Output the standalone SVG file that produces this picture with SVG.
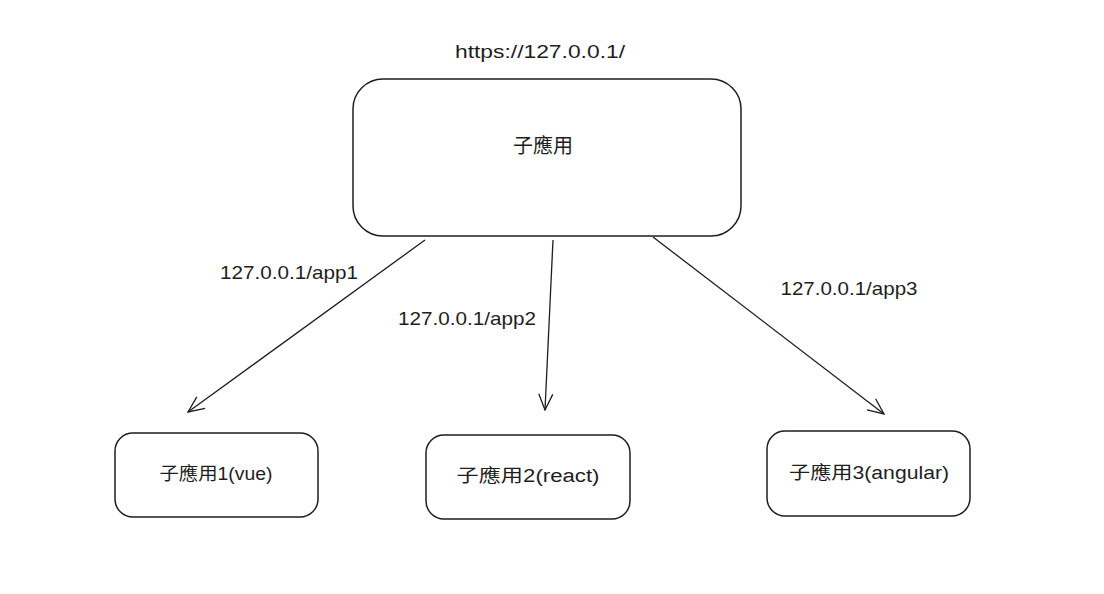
<svg xmlns="http://www.w3.org/2000/svg" width="1104" height="594" viewBox="0 0 1104 594">
<style>
.box{fill:#fff;stroke:#1e1e1e;stroke-width:1.5}
.t{font-family:"Liberation Sans","Noto Sans CJK TC",sans-serif;fill:#1e1e1e;text-anchor:middle}
.lbl{font-size:19px}
.node{font-size:18px}
.conn{stroke:#1e1e1e;stroke-width:1.3;fill:none}
</style>
<defs>
<marker id="arr" viewBox="0 0 20 20" refX="18" refY="10" markerWidth="20" markerHeight="20" markerUnits="userSpaceOnUse" orient="auto">
<path d="M2,3 L18,10 L2,17" fill="none" stroke="#1e1e1e" stroke-width="1.3"/>
</marker>
</defs>
<rect width="1104" height="594" fill="#fff"/>
<text class="t lbl" x="540" y="58" textLength="170" lengthAdjust="spacingAndGlyphs">https://127.0.0.1/</text>
<g id="main">
<rect class="box" x="353" y="79" width="388" height="157" rx="30"/>
<text class="t" x="543" y="153" font-size="20">子應用</text>
</g>
<g id="app1">
<rect class="box" x="115" y="433" width="203" height="84" rx="18"/>
<text class="t node" x="216" y="480" textLength="113" lengthAdjust="spacingAndGlyphs">子應用1(vue)</text>
</g>
<g id="app2">
<rect class="box" x="426" y="435" width="204" height="84" rx="18"/>
<text class="t node" x="528" y="482" textLength="143" lengthAdjust="spacingAndGlyphs">子應用2(react)</text>
</g>
<g id="app3">
<rect class="box" x="767" y="431" width="203" height="85" rx="18"/>
<text class="t node" x="869" y="479" textLength="160" lengthAdjust="spacingAndGlyphs">子應用3(angular)</text>
</g>
<g id="connectors">
<path class="conn" d="M425,240 L188,412" marker-end="url(#arr)"/>
<path class="conn" d="M553,240 L545,410" marker-end="url(#arr)"/>
<path class="conn" d="M653,237 L884,414" marker-end="url(#arr)"/>
<text class="t lbl" x="289" y="279" textLength="138" lengthAdjust="spacingAndGlyphs">127.0.0.1/app1</text>
<text class="t lbl" x="467" y="325" textLength="138" lengthAdjust="spacingAndGlyphs">127.0.0.1/app2</text>
<text class="t lbl" x="849" y="295" textLength="137" lengthAdjust="spacingAndGlyphs">127.0.0.1/app3</text>
</g>
</svg>
